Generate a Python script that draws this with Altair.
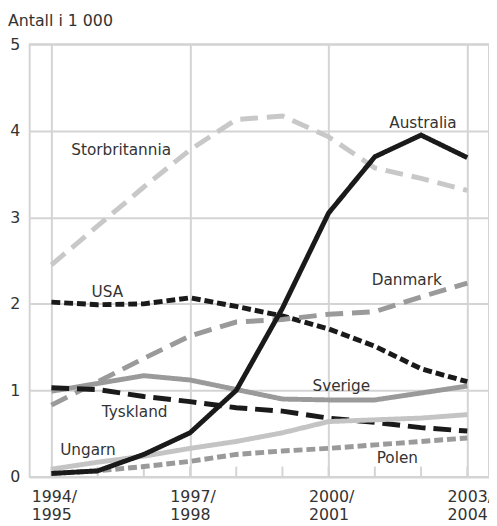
import altair as alt
import pandas as pd

# ---- data ----
periods = ["1994/1995", "1995/1996", "1996/1997", "1997/1998", "1998/1999",
           "1999/2000", "2000/2001", "2001/2002", "2002/2003", "2003/2004"]
australia     = [0.04, 0.07, 0.26, 0.51, 1.00, 1.95, 3.05, 3.70, 3.95, 3.69]
storbritannia = [2.45, 2.90, 3.35, 3.78, 4.13, 4.17, 3.93, 3.57, 3.45, 3.31]
usa           = [2.02, 1.99, 2.00, 2.07, 1.97, 1.86, 1.71, 1.51, 1.25, 1.10]
danmark       = [0.83, 1.10, 1.37, 1.63, 1.79, 1.82, 1.88, 1.91, 2.08, 2.24]
sverige       = [0.99, 1.08, 1.17, 1.12, 1.01, 0.90, 0.89, 0.89, 0.97, 1.05]
tyskland      = [1.03, 1.01, 0.93, 0.87, 0.80, 0.76, 0.68, 0.63, 0.57, 0.53]
ungarn        = [0.09, 0.17, 0.24, 0.33, 0.41, 0.51, 0.64, 0.66, 0.68, 0.72]
polen         = [0.04, 0.07, 0.12, 0.18, 0.26, 0.30, 0.33, 0.37, 0.41, 0.45]

series_names = ["Storbritannia", "USA", "Danmark", "Sverige", "Tyskland",
                "Ungarn", "Polen", "Australia"]
series_values = [storbritannia, usa, danmark, sverige, tyskland, ungarn, polen, australia]

y_ticks = [0, 1, 2, 3, 4, 5]
tick_idx = [0, 3, 6, 9]
tick_labels = ["1994/\n1995", "1997/\n1998", "2000/\n2001", "2003/\n2004"]

# label annotations (data coordinates: period index, value)
label_text = ["Storbritannia", "Australia", "USA", "Danmark", "Sverige", "Tyskland", "Ungarn", "Polen"]
label_x    = [0.43, 7.31, 0.87, 6.93, 5.65, 1.09, 0.19, 7.04]
label_y    = [3.78, 4.09, 2.14, 2.28, 1.05, 0.75, 0.31, 0.22]

# ---- styling ----
colors = {"Storbritannia": "#c8c8c8", "USA": "#1a1a1a", "Danmark": "#9a9a9a",
          "Sverige": "#9a9a9a", "Tyskland": "#1a1a1a", "Ungarn": "#c4c4c4",
          "Polen": "#9a9a9a", "Australia": "#1a1a1a"}
dashes = {"Storbritannia": [18, 9], "USA": [9, 4], "Danmark": [18, 9],
          "Sverige": [1, 0], "Tyskland": [18, 8], "Ungarn": [1, 0],
          "Polen": [9, 4], "Australia": [1, 0]}
widths = {"Storbritannia": 5, "USA": 5, "Danmark": 5, "Sverige": 4,
          "Tyskland": 5, "Ungarn": 4, "Polen": 5, "Australia": 4}

rows = []
for order, (name, vals) in enumerate(zip(series_names, series_values)):
    for i, v in enumerate(vals):
        rows.append({"idx": i, "period": periods[i], "value": v, "series": name, "ord": order})
df = pd.DataFrame(rows)

FONT = "DejaVu Sans"
TXT = "#333333"
GRID = "#d4d4d4"

xscale = alt.Scale(domain=[-0.47, 9.47], nice=False, zero=False)
yscale = alt.Scale(domain=[0, 5], nice=False)

lines = alt.Chart(df).mark_line(strokeCap="butt", strokeJoin="miter").encode(
    x=alt.X("idx:Q", scale=xscale,
            axis=alt.Axis(values=tick_idx, grid=True, labels=False, ticks=False,
                          domain=False, title=None, gridColor=GRID, gridWidth=2)),
    y=alt.Y("value:Q", scale=yscale,
            axis=alt.Axis(values=y_ticks, format="d", grid=True, ticks=False, domain=False,
                          title=None, gridColor=GRID, gridWidth=2, labelFont=FONT,
                          labelFontSize=16, labelColor=TXT, labelPadding=10)),
    color=alt.Color("series:N", scale=alt.Scale(domain=series_names,
                    range=[colors[s] for s in series_names]), legend=None),
    strokeDash=alt.StrokeDash("series:N", scale=alt.Scale(domain=series_names,
                    range=[dashes[s] for s in series_names]), legend=None),
    strokeWidth=alt.StrokeWidth("series:N", scale=alt.Scale(domain=series_names,
                    range=[widths[s] for s in series_names]), legend=None),
    detail="series:N",
    order="idx:Q",
)

minor = alt.Chart(pd.DataFrame({"idx": list(range(len(periods)))})).mark_rule(
    color=GRID, strokeWidth=2).encode(
    x=alt.X("idx:Q", scale=xscale),
    y=alt.datum(0),
    y2=alt.datum(0.12),
)

xlabels = alt.Chart(pd.DataFrame({"idx": tick_idx, "lab": tick_labels})).mark_text(
    align="left", baseline="top", dx=-20, dy=12, lineBreak="\n", font=FONT,
    fontSize=16, color=TXT, lineHeight=19).encode(
    x=alt.X("idx:Q", scale=xscale),
    y=alt.datum(0),
    text="lab:N",
)

annot = alt.Chart(pd.DataFrame({"t": label_text, "x": label_x, "y": label_y})).mark_text(
    align="left", baseline="middle", font=FONT, fontSize=15.5, color=TXT).encode(
    x=alt.X("x:Q", scale=xscale),
    y=alt.Y("y:Q", scale=yscale),
    text="t:N",
)

title = alt.Chart(pd.DataFrame({"t": ["Antall i 1 000"]})).mark_text(
    align="left", baseline="middle", font=FONT, fontSize=16, color=TXT).encode(
    x=alt.value(-22), y=alt.value(-23), text="t:N")

chart = alt.layer(minor, lines, annot, xlabels, title).properties(
    width=466, height=439,
    autosize=alt.AutoSizeParams(type="none"),
    padding={"left": 22, "top": 33, "right": 0, "bottom": 45},
).configure_view(stroke=GRID, strokeWidth=2)

chart.save("out.html", embed_options={"renderer": "svg", "actions": False})
